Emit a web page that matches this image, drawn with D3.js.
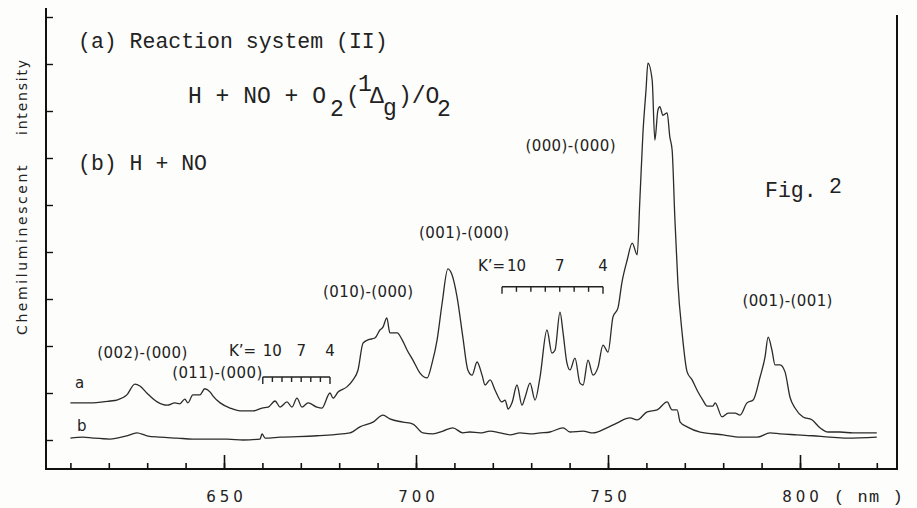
<!DOCTYPE html>
<html>
<head>
<meta charset="utf-8">
<script src="https://cdn.jsdelivr.net/npm/d3@7"></script>
<style>
  body { margin: 0; background: #fdfdfb; }
  svg { display: block; }
  .mono { font-family: "Liberation Mono", "Courier New", monospace; fill: #222; }
  .sans { font-family: "DejaVu Sans", sans-serif; fill: #222; }
</style>
</head>
<body>
<svg width="917" height="508"></svg>
<script>
// wavelength (nm), intensity (arb. units, tick spacing = 1)
const seriesA = [
  [610,0.79],[615.9,0.79],[618.5,0.81],[620.3,0.83],[622.1,0.85],[624.7,0.96],[626.8,1.19],[628.1,1.15],
  [629.9,1.00],[632.6,0.81],[635.2,0.74],[637.2,0.79],[638.5,0.77],[639.8,0.87],[640.6,0.79],[641.9,0.96],
  [643.7,0.96],[645.0,1.09],[646.4,1.02],[647.1,0.94],[649.0,0.79],[651.6,0.68],[654.2,0.62],[657.6,0.62],
  [659.9,0.68],[661.5,0.70],[663.3,0.83],[664.6,0.70],[666.4,0.81],[667.7,0.70],[669.0,0.89],[670.3,0.70],
  [671.9,0.79],[674.2,0.70],[675.5,0.68],[677.6,1.00],[678.4,0.89],[679.7,1.02],[682.0,1.13],[683.6,1.28],
  [684.9,1.49],[686.2,2.06],[687.5,2.13],[689.3,2.17],[690.6,2.34],[691.4,2.40],[692.4,2.60],[693.2,2.28],
  [695.1,2.28],[696.4,2.13],[697.7,1.91],[699.2,1.70],[701.0,1.43],[702.9,1.32],[704.2,1.64],[705.5,2.13],
  [706.8,2.91],[708.3,3.64],[709.4,3.51],[710.7,3.04],[712.2,2.19],[713.5,1.49],[714.6,1.38],[715.9,1.66],
  [717.2,1.38],[718.0,1.17],[719.3,1.28],[720.6,1.06],[722.4,0.81],[723.2,0.85],[724.0,0.66],[725.0,0.79],
  [726.3,1.17],[727.6,0.74],[728.4,0.91],[729.7,1.21],[731.0,0.85],[732.3,1.34],[734.1,2.34],[735.4,1.85],
  [736.2,1.91],[737.5,2.72],[738.3,2.28],[739.3,1.64],[740.1,1.49],[741.4,1.74],[742.7,1.21],[743.5,1.17],
  [744.8,1.70],[746.1,1.38],[747.4,1.55],[748.7,2.02],[750.0,1.87],[751.3,2.62],[752.6,2.81],[753.6,3.34],
  [755.0,3.83],[756.3,4.19],[757.6,3.94],[758.3,5.11],[759.1,6.53],[759.9,7.45],[760.4,8.02],[761.5,7.66],
  [762.2,6.38],[763.0,7.02],[763.5,7.09],[764.3,6.91],[765.4,6.96],[766.1,6.45],[766.7,6.17],[767.4,4.74],
  [768.2,3.34],[769.3,2.28],[770.6,1.45],[771.9,1.28],[773.2,1.06],[774.7,0.85],[775.8,0.72],[777.3,0.72],
  [777.9,0.79],[779.7,0.49],[781.3,0.57],[783.1,0.57],[784.4,0.53],[786.2,0.79],[787.8,0.85],[789.6,1.34],
  [790.9,1.77],[791.7,2.19],[792.7,1.91],[793.5,1.60],[794.8,1.60],[796.1,1.45],[797.4,0.91],[798.7,0.68],
  [800.8,0.49],[803.1,0.43],[805.2,0.26],[807.3,0.17],[810.4,0.17],[813.8,0.15],[817.4,0.15],[820,0.15]
];
const seriesB = [
  [610,0.04],[613.3,0.06],[615.9,0.04],[620.3,0.02],[624.7,0.09],[627.3,0.15],[629.9,0.09],[633.3,0.06],
  [637.8,0.04],[641.9,0.02],[646.4,0.02],[650.8,0.02],[655.0,0.00],[659.4,0.02],[659.9,0.13],[660.7,0.04],
  [664.6,0.06],[674.2,0.09],[682.8,0.15],[685.4,0.28],[688.8,0.38],[691.4,0.53],[693.2,0.45],[696.6,0.38],
  [699.2,0.34],[701.8,0.15],[704.4,0.13],[707.0,0.19],[709.6,0.26],[712.2,0.15],[714.0,0.17],[716.7,0.15],
  [719.3,0.19],[721.9,0.15],[724.5,0.11],[727.1,0.15],[729.7,0.13],[732.3,0.15],[734.9,0.17],[738.3,0.26],
  [740.1,0.17],[743.5,0.19],[746.1,0.15],[749.7,0.26],[752.3,0.36],[755.7,0.47],[757.6,0.43],[760.2,0.60],
  [762.8,0.64],[765.4,0.81],[766.7,0.64],[768.0,0.64],[768.8,0.38],[770.6,0.28],[774.0,0.17],[780.0,0.11],
  [784.4,0.06],[788.8,0.06],[792.2,0.15],[794.8,0.13],[799.2,0.11],[803.3,0.09],[807.7,0.06],[812.2,0.04],
  [820,0.06]
];

const minorTicks = [610,620,630,640,650,660,670,680,690,700,710,720,730,740,750,760,770,780,790,800,810,820];
const majorTicks = [650,700,750,800];
const yTicks = [0,1,2,3,4,5,6,7,8,9];

// band labels: [text, nm, intensity]
const bandLabels = [
  ['(002)-(000)', 617.0, 1.75],
  ['(011)-(000)', 636.5, 1.32],
  ['(010)-(000)', 675.8, 3.05],
  ['(001)-(000)', 700.8, 4.30],
  ['(000)-(000)', 728.5, 6.15],
  ['(001)-(001)', 785.0, 2.85]
];
// K' rotational markers: bracket ends (nm), intensity, K values
const kLeft  = { from: 660.1, to: 677.6, level: 1.34, ks: [11,10,9,8,7,6,5,4] };
const kRight = { from: 722.4, to: 748.7, level: 3.26, ks: [11,10,9,8,7,6,5,4] };
const kShown = [10, 7, 4];

const svg = d3.select('svg');

const x = d3.scaleLinear().domain([610, 820]).range([70.4, 876.8]);
const y = d3.scaleLinear().domain([0, 9]).range([440, 17]);
const xLeft = 46, xRight = 897, yBottom = 469, yTop = 8;

// frame lines
svg.append('line').attr('x1', xLeft).attr('x2', xLeft).attr('y1', yTop).attr('y2', yBottom)
  .attr('stroke', '#111').attr('stroke-width', 2);
svg.append('line').attr('x1', xLeft - 1).attr('x2', xRight + 1).attr('y1', yBottom).attr('y2', yBottom)
  .attr('stroke', '#111').attr('stroke-width', 2);
svg.append('line').attr('x1', xRight).attr('x2', xRight).attr('y1', 15).attr('y2', yBottom)
  .attr('stroke', '#111').attr('stroke-width', 2);

// x axis: minor and major ticks inward
const gxMinor = svg.append('g').attr('transform', `translate(0,${yBottom})`)
  .call(d3.axisBottom(x).tickValues(minorTicks).tickSize(-6).tickFormat(''));
const gxMajor = svg.append('g').attr('transform', `translate(0,${yBottom})`)
  .call(d3.axisBottom(x).tickValues(majorTicks).tickSize(-14).tickPadding(22));
[gxMinor, gxMajor].forEach(g => {
  g.select('.domain').remove();
  g.selectAll('.tick line').attr('stroke', '#111').attr('stroke-width', 1.6);
});
gxMajor.selectAll('.tick text')
  .attr('font-family', '"DejaVu Sans", sans-serif')
  .attr('font-size', 15)
  .attr('letter-spacing', 4)
  .attr('dx', 2)
  .attr('fill', '#222');

svg.append('text').attr('class', 'mono')
  .attr('x', 834).attr('y', 502)
  .attr('font-size', 17).attr('letter-spacing', 1.5)
  .text('( nm )');

// y axis ticks (no labels)
const gy = svg.append('g').attr('transform', `translate(${xLeft},0)`)
  .call(d3.axisLeft(y).tickValues(yTicks).tickSize(-7).tickFormat(''));
gy.select('.domain').remove();
gy.selectAll('.tick line').attr('stroke', '#111').attr('stroke-width', 1.4);

// y title
const yt = svg.append('text').attr('class', 'sans')
  .attr('transform', 'translate(27,335) rotate(-90)')
  .attr('font-size', 14).attr('fill', '#444').attr('letter-spacing', 2.6);
yt.append('tspan').attr('x', 0).text('Chemiluminescent');
yt.append('tspan').attr('x', 200).attr('letter-spacing', 1.8).text('intensity');

// curves
const line = d3.line().curve(d3.curveMonotoneX).x(d => x(d[0])).y(d => y(d[1]));
svg.append('path').datum(seriesB).attr('d', line)
  .attr('fill', 'none').attr('stroke', '#2b2b2b').attr('stroke-width', 1.3);
svg.append('path').datum(seriesA).attr('d', line)
  .attr('fill', 'none').attr('stroke', '#2b2b2b').attr('stroke-width', 1.3);

// curve letters
svg.append('text').attr('class', 'sans').attr('x', 75).attr('y', 388).attr('font-size', 15).text('a');
svg.append('text').attr('class', 'sans').attr('x', 77).attr('y', 431).attr('font-size', 15).text('b');

// band labels
svg.selectAll('.band').data(bandLabels).enter().append('text')
  .attr('class', 'sans band')
  .attr('x', d => x(d[1])).attr('y', d => y(d[2]))
  .attr('font-size', 15).attr('letter-spacing', 0.4)
  .text(d => d[0]);

// K' brackets
function drawBracket(b, labelY, kx) {
  const xs = b.ks.map((k, i) => b.from + (b.to - b.from) * i / (b.ks.length - 1));
  const yl = y(b.level);
  const g = svg.append('g').attr('stroke', '#222').attr('stroke-width', 1.4).attr('fill', 'none');
  g.append('line').attr('x1', x(b.from)).attr('x2', x(b.to)).attr('y1', yl).attr('y2', yl);
  g.selectAll('.kt').data(xs).enter().append('line')
    .attr('x1', d => x(d)).attr('x2', d => x(d)).attr('y1', yl)
    .attr('y2', (d, i) => yl + (i === 0 || i === xs.length - 1 ? 7 : 5));
  b.ks.forEach((k, i) => {
    if (kShown.includes(k)) {
      svg.append('text').attr('class', 'sans').attr('x', x(xs[i])).attr('y', labelY)
        .attr('text-anchor', 'middle').attr('font-size', 15).text(k);
    }
  });
  svg.append('text').attr('class', 'sans').attr('x', kx).attr('y', labelY)
    .attr('font-size', 15).text('K\u2019=');
}
drawBracket(kLeft, 356, 229);
drawBracket(kRight, 271, 478);

// headings (typewriter)
svg.append('text').attr('class', 'mono').attr('x', 78).attr('y', 48).attr('font-size', 21.5)
  .text('(a) Reaction system (II)');
svg.append('text').attr('class', 'mono').attr('x', 78).attr('y', 170).attr('font-size', 21.5)
  .text('(b) H + NO');
const f = svg.append('text').attr('class', 'mono').attr('font-size', 23);
f.append('tspan').attr('x', 188).attr('y', 103).text('H + NO + O');
f.append('tspan').attr('x', 330).attr('y', 116).text('2');
f.append('tspan').attr('x', 346).attr('y', 103).text('(');
f.append('tspan').attr('x', 358).attr('y', 91).text('1');
f.append('tspan').attr('x', 370).attr('y', 103).text('\u0394');
f.append('tspan').attr('x', 383).attr('y', 115).text('g');
f.append('tspan').attr('x', 398).attr('y', 103).text(')/O');
f.append('tspan').attr('x', 437).attr('y', 116).text('2');

const fig = svg.append('text').attr('class', 'mono').attr('font-size', 21.5);
fig.append('tspan').attr('x', 765).attr('y', 197).text('Fig.');
fig.append('tspan').attr('x', 829).attr('y', 193).text('2');
</script>
</body>
</html>
